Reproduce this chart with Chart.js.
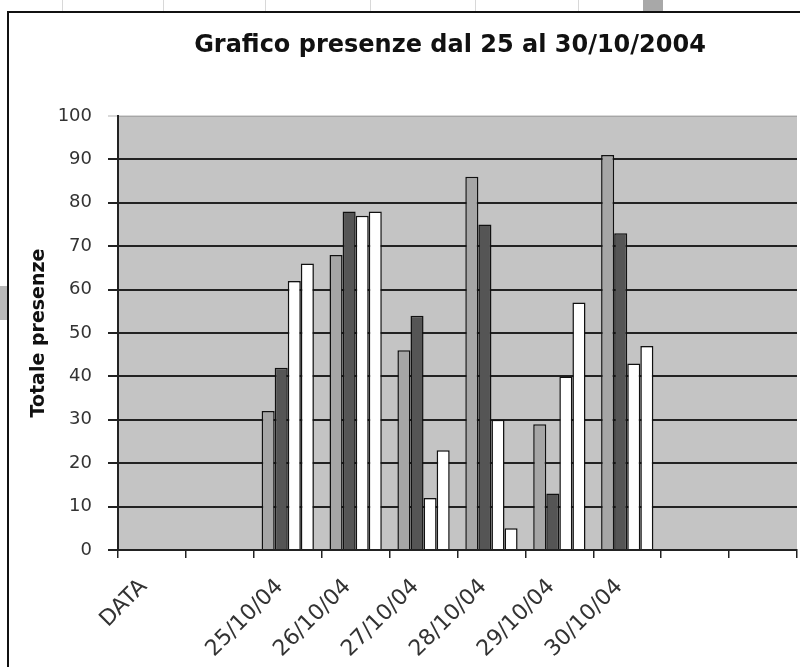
<!DOCTYPE html>
<html>
<head>
<meta charset="utf-8">
<title>Grafico presenze</title>
<script src="https://cdn.jsdelivr.net/npm/chart.js@4.4.1/dist/chart.umd.min.js"></script>
<style>
    body { margin: 0; background: #ffffff; }
    #sheet { position: absolute; left: 0; top: 0; width: 800px; height: 667px; overflow: hidden; background: #fff; }
    .cell { position: absolute; top: 0; height: 12px; border-left: 1px solid #d8d8d8; }
    #frame { position: absolute; left: 7px; top: 11px; width: 800px; height: 670px; border: 2px solid #111; background: #fff; }
    #wrap { position: absolute; left: 0; top: 0; width: 800px; height: 667px; }
</style>
</head>
<body>
<div id="sheet">
    <div class="cell" style="left:62px"></div>
    <div class="cell" style="left:163px"></div>
    <div class="cell" style="left:265px"></div>
    <div class="cell" style="left:370px"></div>
    <div class="cell" style="left:475px"></div>
    <div class="cell" style="left:578px"></div>
    <div style="position:absolute;left:643px;top:0;width:20px;height:12px;background:#a8a8a8"></div>
    <div style="position:absolute;left:0;top:286px;width:7px;height:34px;background:#b8b8b8"></div>
    <div id="frame"></div>
    <div id="wrap"><canvas id="presenze" width="800" height="667"></canvas></div>
</div>
<script>
// categorie sull'asse x (la seconda e le ultime due sono vuote come nel foglio)
let categories = ['DATA', '', '25/10/04', '26/10/04', '27/10/04', '28/10/04', '29/10/04', '30/10/04', '', ''];
let serie1 = [null, null, 32, 68, 46, 86, 29, 91, null, null];
let serie2 = [null, null, 42, 78, 54, 75, 13, 73, null, null];
let serie3 = [null, null, 62, 77, 12, 30, 40, 43, null, null];
let serie4 = [null, null, 66, 78, 23, 5, 57, 47, null, null];
let yTicks = [0, 10, 20, 30, 40, 50, 60, 70, 80, 90, 100];
let chartTitle = 'Grafico presenze dal 25 al 30/10/2004';

// sfondo grigio dell'area del grafico + titolo centrato sulla cornice
let plotBackground = {
    id: 'plotBackground',
    beforeDraw(chart) {
        let a = chart.chartArea;
        let c = chart.ctx;
        c.save();
        c.fillStyle = '#c4c4c4';
        c.fillRect(a.left, a.top, a.right - a.left, a.bottom - a.top);
        c.restore();
    },
    afterDraw(chart) {
        let c = chart.ctx;
        c.save();
        c.font = 'bold 24px "DejaVu Sans"';
        c.fillStyle = '#111';
        c.textAlign = 'center';
        c.textBaseline = 'middle';
        c.fillText(chartTitle, 450, 46);
        c.restore();
    }
};

let ctx = document.getElementById('presenze');
let presenzeChart = new Chart(ctx, {
    type: 'bar',
    plugins: [plotBackground],
    data: {
        labels: categories,
        datasets: [
            { label: 'Serie1', data: serie1, backgroundColor: '#a6a6a6', borderColor: '#111', borderWidth: 1.5 },
            { label: 'Serie2', data: serie2, backgroundColor: '#555555', borderColor: '#111', borderWidth: 1.5 },
            { label: 'Serie3', data: serie3, backgroundColor: '#ffffff', borderColor: '#111', borderWidth: 1.5 },
            { label: 'Serie4', data: serie4, backgroundColor: '#ffffff', borderColor: '#111', borderWidth: 1.5 }
        ]
    },
    options: {
        responsive: false,
        maintainAspectRatio: false,
        animation: false,
        layout: { padding: { left: 0, right: 3, top: 116, bottom: 0 } },
        datasets: { bar: { categoryPercentage: 0.77, barPercentage: 1.0 } },
        plugins: {
            legend: { display: false },
            tooltip: { enabled: false },
            title: { display: false }
        },
        scales: {
            x: {
                grid: { offset: true, drawOnChartArea: false, drawTicks: true, tickLength: 8, color: '#222', lineWidth: 1.5 },
                border: { color: '#222', width: 2 },
                ticks: {
                    autoSkip: false,
                    maxRotation: 45,
                    minRotation: 45,
                    color: '#333',
                    padding: 16,
                    labelOffset: -8,
                    font: { family: 'DejaVu Sans', size: 22 }
                },
                afterFit(scale) { scale.height = 117; }
            },
            y: {
                min: 0,
                max: 100,
                afterBuildTicks(scale) { scale.ticks = yTicks.map(v => ({ value: v })); },
                grid: {
                    color: (c) => c.tick && c.tick.value === 100 ? 'rgba(0,0,0,0.15)' : '#222',
                    lineWidth: 2,
                    tickLength: 10
                },
                border: { color: '#222', width: 2 },
                ticks: {
                    color: '#333',
                    padding: 16,
                    font: { family: 'DejaVu Sans', size: 18 }
                },
                title: {
                    display: true,
                    text: 'Totale presenze',
                    color: '#111',
                    font: { family: 'DejaVu Sans', size: 19, weight: 'bold' },
                    padding: { top: 28, bottom: 0 }
                },
                afterFit(scale) { scale.width = 118; }
            }
        }
    }
});
</script>
</body>
</html>
